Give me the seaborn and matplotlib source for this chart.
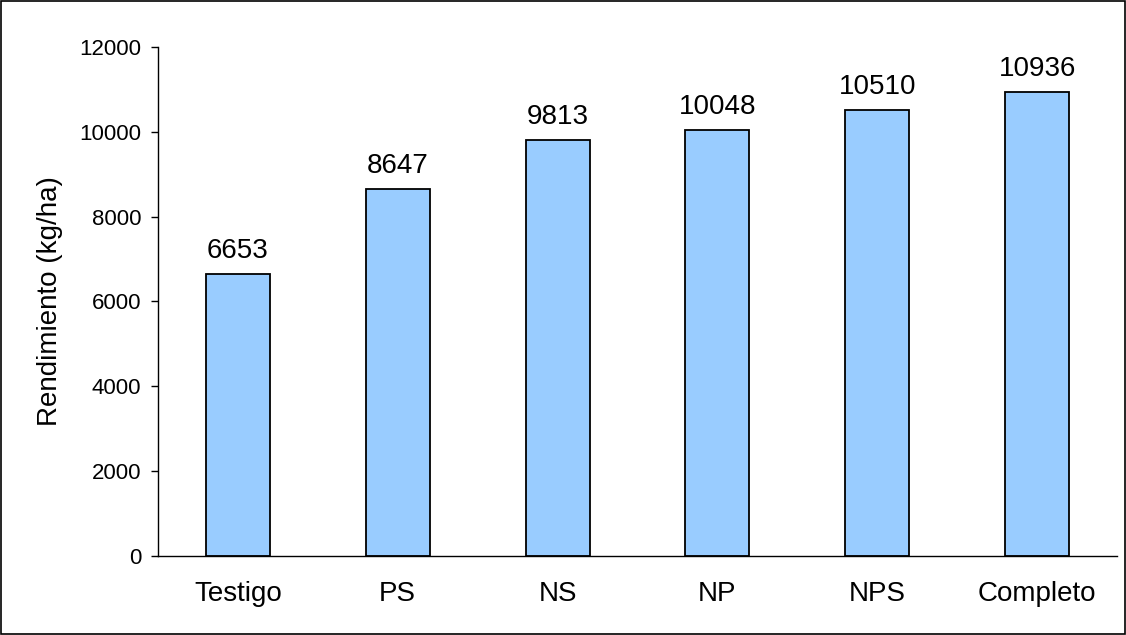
import numpy as np
import pandas as pd
import matplotlib
matplotlib.use('Agg')
import matplotlib.pyplot as plt
import seaborn as sns
from matplotlib.patches import Rectangle

tratamientos = ['Testigo', 'PS', 'NS', 'NP', 'NPS', 'Completo']
rendimiento = [6653, 8647, 9813, 10048, 10510, 10936]
y_ticks = [0, 2000, 4000, 6000, 8000, 10000, 12000]

df = pd.DataFrame({'Tratamiento': tratamientos, 'Rendimiento': rendimiento})

sns.set_style('white')
plt.rcParams['font.family'] = ['Liberation Sans', 'DejaVu Sans']
plt.rcParams['text.color'] = 'black'
plt.rcParams['axes.labelcolor'] = 'black'
plt.rcParams['xtick.color'] = 'black'
plt.rcParams['ytick.color'] = 'black'

fig = plt.figure(figsize=(11.26, 6.35), dpi=100)
ax = fig.add_axes([0.1403, 0.1244, 0.8517, 0.8016])

sns.barplot(data=df, x='Tratamiento', y='Rendimiento', color='#99CCFF',
            width=0.4, edgecolor='black', linewidth=1.3, saturation=1, ax=ax)

# etiquetas de valor encima de cada barra
for i, v in enumerate(rendimiento):
    ax.text(i, v + 240, str(v), ha='center', va='bottom', fontsize=20)

ax.set_ylim(0, 12000)
ax.set_xlim(-0.5, len(tratamientos) - 0.5)
ax.set_yticks(y_ticks)
ax.set_yticklabels([str(t) for t in y_ticks], fontsize=16)
ax.set_xticks(range(len(tratamientos)))
ax.set_xticklabels(tratamientos, fontsize=20)
ax.set_xticks(np.arange(-0.5, len(tratamientos), 1), minor=True)
ax.tick_params(axis='x', which='major', length=0, pad=18)
ax.tick_params(axis='x', which='minor', length=6, width=1, color='black', direction='out')
ax.tick_params(axis='y', length=5, width=1, color='black', direction='out', left=True, pad=7)
ax.set_xlabel('')
ax.set_ylabel('Rendimiento (kg/ha)', fontsize=20, labelpad=12)

sns.despine(ax=ax, top=True, right=True)
for s in ['left', 'bottom']:
    ax.spines[s].set_color('black')
    ax.spines[s].set_linewidth(1)

fig.patches.append(Rectangle((0.001, 0.0015), 0.998, 0.997, transform=fig.transFigure,
                             fill=False, edgecolor='black', linewidth=1.2))

fig.savefig('out.png', dpi=100)
